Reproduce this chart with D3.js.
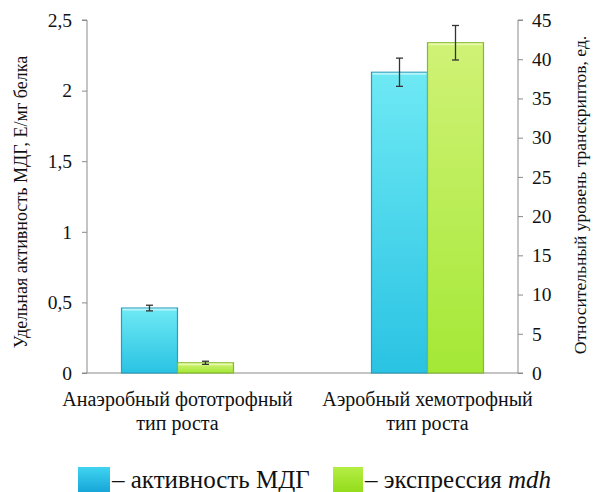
<!DOCTYPE html>
<html><head><meta charset="utf-8">
<script src="https://cdn.jsdelivr.net/npm/d3@7"></script>
</head><body style="margin:0">
<svg id="c" width="594" height="492"></svg>
<script>
const categories = [["Анаэробный фототрофный","тип роста"],["Аэробный хемотрофный","тип роста"]];
const activity = [0.46, 2.13];       // left axis, Е/мг белка
const activityErr = [0.02, 0.1];
const expression = [1.3, 42.1];      // right axis, отн. ед.
const expressionErr = [0.2, 2.2];
const leftTicks = [0,0.5,1,1.5,2,2.5];
const rightTicks = [0,5,10,15,20,25,30,35,40,45];
const leftTitle = "Удельная активность МДГ, Е/мг белка";
const rightTitle = "Относительный уровень транскриптов, ед.";

const svg = d3.select("#c");
const L = 87, R = 518, T = 20, B = 373;
const x = d3.scaleBand().domain(d3.range(categories.length)).range([L,R]).paddingInner(0.552).paddingOuter(0.138);
const sub = d3.scaleBand().domain([0,1]).range([0,x.bandwidth()]);
const yL = d3.scaleLinear().domain([0,2.5]).range([B,T]);
const yR = d3.scaleLinear().domain([0,45]).range([B,T]);

const defs = svg.append("defs");
function grad(id, c1, c2){
  const g = defs.append("linearGradient").attr("id",id).attr("x1",0).attr("y1",0).attr("x2",0).attr("y2",1);
  g.append("stop").attr("offset","0%").attr("stop-color",c1);
  g.append("stop").attr("offset","100%").attr("stop-color",c2);
}
grad("gb","#6ee9f4","#2ac3e3");
grad("gg","#d0f276","#a4e836");
grad("lb","#40d4f0","#16a6d8");
grad("lg","#b4ee44","#94dc1c");

function txt(sel, size){ return sel.style("font-family","Liberation Serif").attr("font-size",size).attr("fill","#111"); }

// axes
const axL = svg.append("g").attr("transform",`translate(${L},0)`)
  .call(d3.axisLeft(yL).tickValues(leftTicks).tickSize(5).tickPadding(10).tickFormat(d=>String(d).replace(".",",")));
const axR = svg.append("g").attr("transform",`translate(${R},0)`)
  .call(d3.axisRight(yR).tickValues(rightTicks).tickSize(5).tickPadding(9));
[axL,axR].forEach(a=>{
  a.attr("font-family",null).attr("font-size",null);
  a.select(".domain").attr("stroke","#8a8a8a").attr("d", a===axL ? `M-5,${T}H0V${B}H-5` : `M5,${T}H0V${B}H5`);
  a.selectAll(".tick line").attr("stroke","#8a8a8a");
  txt(a.selectAll(".tick text"), 19.5);
});
svg.append("line").attr("x1",L).attr("x2",R).attr("y1",B).attr("y2",B).attr("stroke","#8a8a8a");

// bars
const g = svg.append("g");
categories.forEach((c,i)=>{
  const x0 = x(i);
  g.append("rect").attr("x",x0+sub(0)).attr("y",yL(activity[i])).attr("width",sub.bandwidth()).attr("height",B-yL(activity[i]))
    .attr("fill","url(#gb)").attr("stroke","#2b9cbc").attr("stroke-width",1.2);
  g.append("rect").attr("x",x0+sub(0)+1).attr("y",yL(activity[i])+0.5).attr("width",sub.bandwidth()-2).attr("height",2).attr("fill","#c8f6fb").attr("opacity",0.8);
  g.append("rect").attr("x",x0+sub(1)).attr("y",yR(expression[i])).attr("width",sub.bandwidth()).attr("height",B-yR(expression[i]))
    .attr("fill","url(#gg)").attr("stroke","#84ba30").attr("stroke-width",1.2);
  g.append("rect").attr("x",x0+sub(1)+1).attr("y",yR(expression[i])+0.5).attr("width",sub.bandwidth()-2).attr("height",Math.min(2,B-yR(expression[i])-1)).attr("fill","#f0fbb8").attr("opacity",0.8);
  const eb = (cx, y1, y2)=>{
    g.append("line").attr("x1",cx).attr("x2",cx).attr("y1",y1).attr("y2",y2).attr("stroke","#333").attr("stroke-width",1.3);
    [y1,y2].forEach(yy=>g.append("line").attr("x1",cx-3.5).attr("x2",cx+3.5).attr("y1",yy).attr("y2",yy).attr("stroke","#333").attr("stroke-width",1.3));
  };
  eb(x0+sub(0)+sub.bandwidth()/2, yL(activity[i]+activityErr[i]), yL(activity[i]-activityErr[i]));
  eb(x0+sub(1)+sub.bandwidth()/2, yR(expression[i]+expressionErr[i]), yR(expression[i]-expressionErr[i]));
  c.forEach((ln,k)=>txt(svg.append("text"),20).attr("x",x0+x.bandwidth()/2).attr("y",406+k*24).attr("text-anchor","middle").text(ln));
});

// axis titles
txt(svg.append("text"),18).attr("transform",`translate(27,${202}) rotate(-90)`).attr("text-anchor","middle").text(leftTitle);
txt(svg.append("text"),17.5).attr("transform",`translate(586,${195}) rotate(-90)`).attr("text-anchor","middle").text(rightTitle);

// legend
svg.append("rect").attr("x",78).attr("y",467).attr("width",32).attr("height",25).attr("fill","url(#lb)");
txt(svg.append("text"),25).attr("x",112).attr("y",488).text("– активность МДГ");
svg.append("rect").attr("x",333).attr("y",467).attr("width",30).attr("height",25).attr("fill","url(#lg)");
const t2 = txt(svg.append("text"),25).attr("x",365).attr("y",488);
t2.append("tspan").text("– экспрессия ");
t2.append("tspan").style("font-style","italic").text("mdh");
</script>
</body></html>
